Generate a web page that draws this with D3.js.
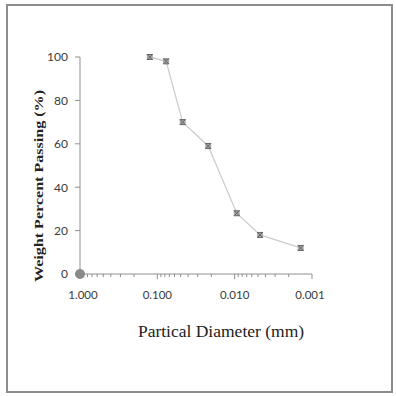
<!DOCTYPE html>
<html>
<head>
<meta charset="utf-8">
<script src="https://cdn.jsdelivr.net/npm/d3@7"></script>
<style>
  html, body { margin: 0; padding: 0; background: #fff; }
  svg { display: block; }
</style>
</head>
<body>
<script>
// Grain-size distribution: particle diameter (mm) vs. weight percent passing
const diameters = [0.125, 0.077, 0.047, 0.022, 0.0094, 0.0047, 0.0014];
const passing = [100, 98, 70, 59, 28, 18, 12];
const xTickValues = [1, 0.1, 0.01, 0.001];
const xTickLabels = ["1.000", "0.100", "0.010", "0.001"];
const yTickValues = [0, 20, 40, 60, 80, 100];

const W = 396, H = 396;
const svg = d3.select("body").append("svg").attr("width", W).attr("height", H);

// outer frame
svg.append("rect")
  .attr("x", 7).attr("y", 5).attr("width", 385).attr("height", 387)
  .attr("fill", "#fff").attr("stroke", "#8c8c8c").attr("stroke-width", 2);

const x = d3.scaleLog().domain([1, 0.001]).range([80, 312]);
const y = d3.scaleLinear().domain([0, 100]).range([274, 57]);

const axisColor = "#8f8f8f";

// x axis with log minor ticks
const minor = [];
[1, 0.1, 0.01].forEach(dec => {
  for (let k = 2; k <= 9; k++) minor.push(dec * k / 10);
});
const gx = svg.append("g").attr("transform", `translate(0,${y(0)})`);
gx.append("line").attr("x1", x(1)).attr("x2", x(0.001))
  .attr("stroke", axisColor).attr("stroke-width", 1);
gx.selectAll("line.minor").data(minor).join("line").attr("class", "minor")
  .attr("x1", d => x(d)).attr("x2", d => x(d)).attr("y1", 0).attr("y2", 3)
  .attr("stroke", axisColor).attr("stroke-width", 1);
gx.selectAll("line.major").data(xTickValues).join("line").attr("class", "major")
  .attr("x1", d => x(d)).attr("x2", d => x(d)).attr("y1", 0).attr("y2", 5)
  .attr("stroke", axisColor).attr("stroke-width", 1);
gx.selectAll("text").data(xTickValues).join("text")
  .attr("x", (d, i) => x(d) + [3, 0, 0, -2][i]).attr("y", 25)
  .attr("text-anchor", "middle")
  .attr("font-family", "Lato, sans-serif").attr("font-size", 11.5)
  .attr("fill", "#3a3a3a")
  .text((d, i) => xTickLabels[i]);

// y axis
const gy = svg.append("g").attr("transform", `translate(${x(1)},0)`);
gy.append("line").attr("y1", y(0)).attr("y2", y(100))
  .attr("stroke", axisColor).attr("stroke-width", 1);
gy.selectAll("line.tick").data(yTickValues).join("line").attr("class", "tick")
  .attr("x1", -5).attr("x2", 0).attr("y1", d => y(d)).attr("y2", d => y(d))
  .attr("stroke", axisColor).attr("stroke-width", 1);
gy.selectAll("text").data(yTickValues).join("text")
  .attr("x", -12).attr("y", d => y(d)).attr("dy", "0.36em")
  .attr("text-anchor", "end")
  .attr("font-family", "Lato, sans-serif").attr("font-size", 12)
  .attr("fill", "#3a3a3a")
  .text(d => d);

// origin marker
svg.append("circle").attr("cx", x(1)).attr("cy", y(0)).attr("r", 5)
  .attr("fill", "#8a8a8a");

// curve
const pts = diameters.map((d, i) => [d, passing[i]]);
svg.append("path")
  .attr("d", d3.line().x(d => x(d[0])).y(d => y(d[1]))(pts))
  .attr("fill", "none").attr("stroke", "#cdcdcd").attr("stroke-width", 1.3);

// point markers
const mk = svg.append("g");
pts.forEach(p => {
  const cx = x(p[0]), cy = y(p[1]);
  const g = mk.append("g").attr("transform", `translate(${cx},${cy})`);
  g.append("rect").attr("x", -3).attr("y", -2.5).attr("width", 6).attr("height", 5)
    .attr("fill", "#a8a8a8");
  g.append("path").attr("d", "M-2.5,-2.5L2.5,2.5M2.5,-2.5L-2.5,2.5M-3,-2.5H3M-3,2.5H3")
    .attr("stroke", "#666").attr("stroke-width", 1).attr("fill", "none");
});

// axis titles
svg.append("text")
  .attr("transform", `translate(43,186) rotate(-90)`)
  .attr("text-anchor", "middle")
  .attr("font-family", "'Liberation Serif', serif").attr("font-weight", "bold")
  .attr("font-size", 13).attr("fill", "#222")
  .attr("textLength", 192).attr("lengthAdjust", "spacingAndGlyphs")
  .text("Weight Percent Passing (%)");

svg.append("text")
  .attr("x", 221).attr("y", 337)
  .attr("text-anchor", "middle")
  .attr("font-family", "'Liberation Serif', serif")
  .attr("font-size", 17.5).attr("fill", "#222")
  .text("Partical Diameter (mm)");
</script>
</body>
</html>
